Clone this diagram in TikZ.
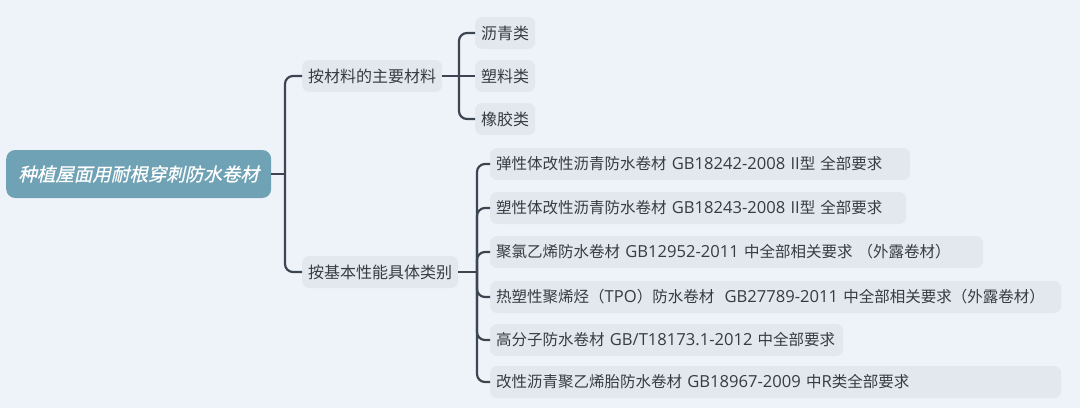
\documentclass[tikz,border=0pt]{standalone}
\usepackage{fontspec}
\setmainfont{Noto Sans CJK SC}
\newfontfamily\rootfont[FakeSlant=0.22,FakeBold=0.6]{Noto Sans CJK SC}
\newfontfamily\latfont[Scale=1.07,WordSpace=1.8]{Open Sans}
\newcommand{\lat}[1]{{\latfont #1}}
\definecolor{bgc}{HTML}{EEF3FA}
\definecolor{boxc}{HTML}{E3E8EF}
\definecolor{rootc}{HTML}{6FA2B4}
\definecolor{linec}{HTML}{3C4550}
\definecolor{txtc}{HTML}{383B40}
\begin{document}
\begin{tikzpicture}[x=1pt,y=-1pt,
  topic/.style={fill=boxc, rounded corners=7pt, text=txtc, anchor=west,
    inner xsep=6pt, inner ysep=0pt, minimum height=32pt, font=\fontsize{16}{19}\selectfont},
  leafbox/.style={topic, align=left, text width=#1-14pt, font=\fontsize{15.5}{18}\selectfont},
  rootbox/.style={fill=rootc, rounded corners=9pt, text=white, anchor=west,
    minimum width=265pt, minimum height=48pt, inner xsep=8pt,
    font=\rootfont\fontsize{18.5}{22}\selectfont},
  conn/.style={draw=linec, line width=2.2pt, rounded corners=8pt}]
\fill[bgc] (0,0) rectangle (1080,408);
\useasboundingbox (0,0) rectangle (1080,408);

\node[rootbox] (root) at (6,174) {种植屋面用耐根穿刺防水卷材};

\node[topic] (b1) at (302,76) {按材料的主要材料};
\node[topic] (b2) at (302,272) {按基本性能具体类别};

\node[topic] (m1) at (475,33) {沥青类};
\node[topic] (m2) at (475,76) {塑料类};
\node[topic] (m3) at (475,119) {橡胶类};

\node[leafbox=422pt] (l1) at (490,164) {弹性体改性沥青防水卷材\lat{ GB18242-2008 II}型\lat{ }全部要求};
\node[leafbox=418pt] (l2) at (490,208) {塑性体改性沥青防水卷材\lat{ GB18243-2008 II}型\lat{ }全部要求};
\node[leafbox=495pt] (l3) at (490,252) {聚氯乙烯防水卷材\lat{ GB12952-2011 }中全部相关要求\lat{ }（外露卷材）};
\node[leafbox=573pt] (l4) at (490,297) {热塑性聚烯烃（\lat{TPO}）防水卷材\lat{\ \ GB27789-2011 }中全部相关要求（外露卷材）};
\node[leafbox=355pt] (l5) at (490,340) {高分子防水卷材\lat{ GB/T18173.1-2012 }中全部要求};
\node[leafbox=573pt] (l6) at (490,382) {改性沥青聚乙烯胎防水卷材\lat{ GB18967-2009 }中\lat{R}类全部要求};

\coordinate (j0) at (285,174);
\coordinate (j1) at (459,76);
\coordinate (j2) at (477,272);

\draw[conn] (root.east) -- (j0);
\draw[conn] (b1.west) -| (j0);
\draw[conn] (b2.west) -| (j0);

\draw[conn] (b1.east) -- (m2.west);
\draw[conn] (m1.west) -| (j1);
\draw[conn] (m3.west) -| (j1);

\draw[conn] (b2.east) -- (j2);
\foreach \n in {l1,l2,l3,l4,l5,l6}{
  \draw[conn] (\n.west) -| (j2);
}
\end{tikzpicture}
\end{document}
